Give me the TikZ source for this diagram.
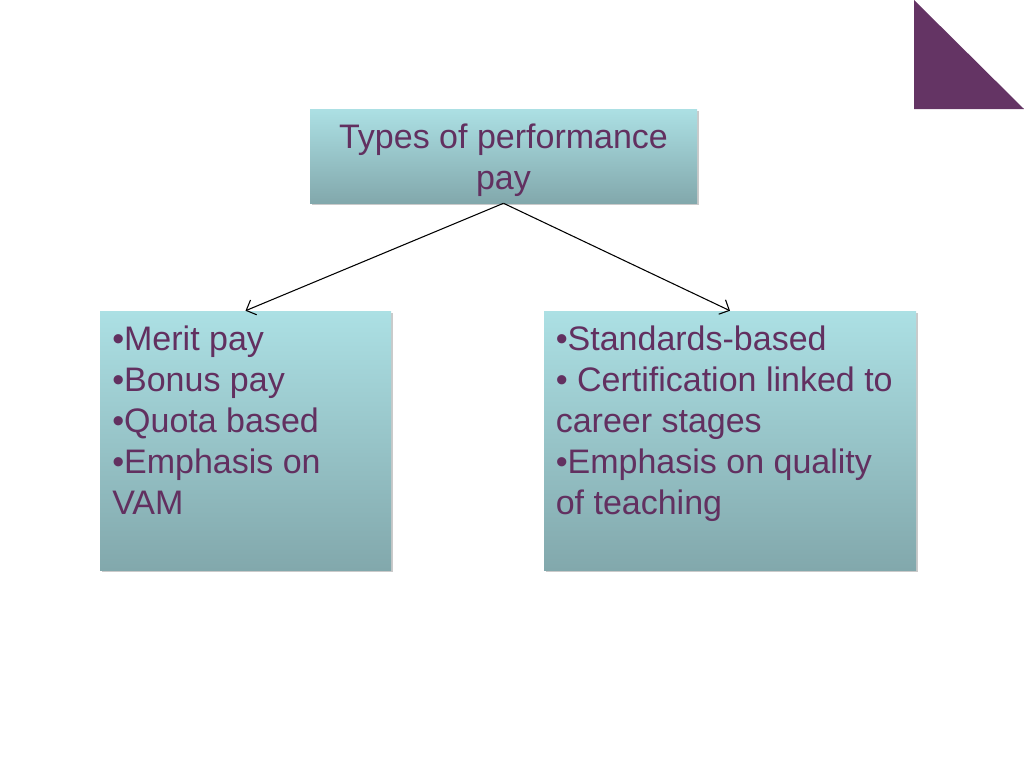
\documentclass[tikz,border=0pt]{standalone}
\usepackage{fontspec}
\setmainfont{Liberation Sans}
\usetikzlibrary{shadows,arrows.meta}
\definecolor{txtpurple}{RGB}{98,48,96}
\definecolor{tripurple}{RGB}{100,52,100}
\definecolor{boxtop}{RGB}{172,224,228}
\definecolor{boxbot}{RGB}{130,168,172}
\tikzset{
  px/.style={x=0.75pt,y=-0.75pt},
  box/.style={draw=none,rectangle,inner sep=0pt,top color=boxtop,bottom color=boxbot,
    drop shadow={shadow xshift=1.2pt,shadow yshift=-1.5pt,opacity=0.35,fill=black!60}},
  boxtext/.style={inner sep=0pt,text=txtpurple,font=\fontsize{25.5}{30.75}\selectfont},
  conn/.style={draw=black,line width=0.8pt,-{Straight Barb[length=6pt,width=12pt]}},
}
\begin{document}
\begin{tikzpicture}[px]
\useasboundingbox (0,0) rectangle (1024,768);
\fill[tripurple] (914,0) -- (914,109) -- (1024,109) -- cycle;
\node[box,minimum width=387*0.75pt,minimum height=94*0.75pt] (top) at (503.5,156) {};
\node[box,minimum width=291*0.75pt,minimum height=259*0.75pt] (left) at (245.5,440.5) {};
\node[box,minimum width=372*0.75pt,minimum height=259*0.75pt] (right) at (730,440.5) {};
\node[boxtext,align=center,anchor=north] (toptext) at (503.5,124) {Types of performance\\pay};
\node[boxtext,align=left,anchor=north west] (lefttext) at (112,326) {•Merit pay\\•Bonus pay\\•Quota based\\•Emphasis on\\VAM};
\node[boxtext,align=left,anchor=north west] (righttext) at (555.5,326) {•Standards-based\\• Certification linked to\\career stages\\•Emphasis on quality\\of teaching};
\draw[conn] (top.south) -- (left.north);
\draw[conn] (top.south) -- (right.north);
\end{tikzpicture}
\end{document}
